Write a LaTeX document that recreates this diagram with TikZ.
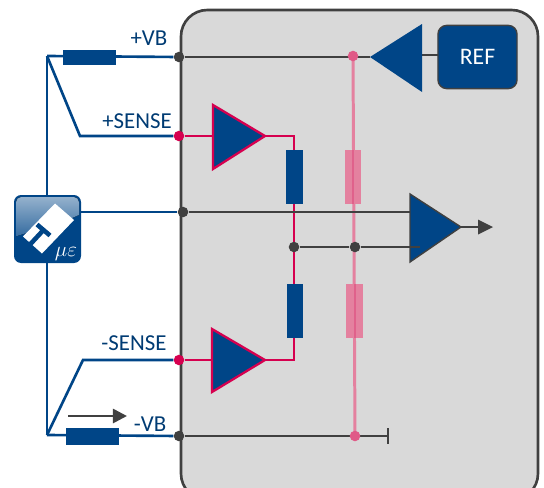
\documentclass[tikz,border=0pt]{standalone}
\usepackage{fontspec}
\setmainfont{Carlito}
\usetikzlibrary{arrows.meta,fadings}
\definecolor{mblue}{HTML}{004587}
\definecolor{mred}{HTML}{D6004F}
\definecolor{mgray}{HTML}{404040}
\definecolor{mpink}{HTML}{E4819F}
\tikzset{
    dotnode/.style={circle,fill=mgray,inner sep=0pt,minimum size=6pt},
    reddot/.style={dotnode,fill=mred},
    pinkdot/.style={dotnode,fill=mpink!70!mred},
    resblue/.style={fill=mblue},
    respink/.style={fill=mpink},
    wireblue/.style={draw=mblue,line width=1.5pt},
    wirered/.style={draw=mred,line width=1.5pt},
    wiregray/.style={draw=mgray,line width=1.5pt},
    wirepink/.style={draw=mpink,line width=1.7pt},
    lab/.style={text=mblue!85!black,font=\fontsize{13}{15}\selectfont,inner sep=0pt}
}
\begin{document}
\begin{tikzpicture}[x=0.02cm,y=-0.02cm]
    \useasboundingbox (0,0) rectangle (544,487);

    % Housing
    \begin{scope}
        \clip (0,0) rectangle (544,487);
        \draw[fill=black!15,draw=mgray,line width=1.5pt,rounded corners=15pt] (181,10) rectangle (538,500);
    \end{scope}

    % Junctions
    \coordinate (bustop) at (47,56);
    \coordinate (busbot) at (47,435);
    \coordinate (senseup) at (80,136);
    \coordinate (sensedn) at (83,360);
    \node[dotnode] (vbplus) at (179,57) {};
    \node[reddot] (senseplus) at (179,136) {};
    \node[dotnode] (signal) at (183,212) {};
    \node[reddot] (senseminus) at (179,360) {};
    \node[dotnode] (vbminus) at (179,436) {};
    \coordinate (endcap) at (388,436);
    \coordinate (sigin) at (410,212);
    \coordinate (refin) at (410,247);
    \coordinate (uptip) at (265,136);
    \coordinate (dntip) at (265,360);
    \coordinate (upknee) at (294,136);
    \coordinate (dnknee) at (294,360);
    \coordinate (reftip) at (370,57);
    \coordinate (refbase) at (422,55);
    \coordinate (maintip) at (461,227);
    \coordinate (outend) at (480,227);
    \coordinate (arrowfrom) at (68,416);
    \coordinate (arrowto) at (127,416);

    % Pink branch
    \coordinate (pinktop) at (353,56);
    \coordinate (pinkbot) at (355,436);
    \draw[wirepink] (pinktop) -- (pinkbot);

    % Wires
    \draw[wirered] (senseplus) -- (213,136);
    \draw[wirered] (senseminus) -- (212,360);
    \draw[wirered] (uptip) -- (upknee) -- (dnknee) -- (dntip);
    \draw[wiregray] (vbplus) -- (reftip);
    \draw[wiregray] (vbminus) -- (endcap);
    \draw[wiregray] ([yshift=-4.5pt]endcap) -- ([yshift=4.5pt]endcap);
    \draw[wiregray] (signal) -- (sigin);
    \draw[wiregray] (maintip) -- (outend);
    \fill[mgray] (478,219.5) -- (493,227) -- (478,234.5) -- cycle;
    \draw[wiregray] (refbase) -- (438,55);

    % Resistors
    \fill[resblue] (286,150) rectangle (303,204);
    \fill[resblue] (287,284) rectangle (303,338);
    \fill[respink] (345,150) rectangle (361,204);
    \fill[respink] (346,284) rectangle (363,338);
    \draw[draw=mpink!75!mred,line width=1.7pt] (353,150) -- (353,204);
    \draw[draw=mpink!75!mred,line width=1.7pt] (355,284) -- (355,338);

    % Bridge tap
    \node[dotnode] (tapa) at (294,247) {};
    \node[dotnode] (tapb) at (355,247) {};
    \draw[wiregray] (tapa) -- (tapb) -- (420,247);
    \node[pinkdot] (pinkupper) at (pinktop) {};
    \node[pinkdot] (pinklower) at (pinkbot) {};

    % Amplifiers
    \filldraw[fill=mblue,draw=mred,line width=1.3pt] (213,105) -- (uptip) -- (213,169) -- cycle;
    \filldraw[fill=mblue,draw=mred,line width=1.3pt] (212,329) -- (dntip) -- (212,392) -- cycle;
    \fill[mblue] (reftip) -- (422,24) -- (422,92) -- cycle;
    \filldraw[fill=mblue,draw=mgray,line width=0.8pt] (410,194) -- (maintip) -- (410,262) -- cycle;
    \draw[wiregray] (410,247) -- (420,247);

    % Reference
    \node[draw=mgray,fill=mblue,line width=0.8pt,rounded corners=5pt,minimum width=45pt,minimum height=36pt,inner sep=0pt,text=white,font=\fontsize{13.5}{15}\selectfont] (ref) at (477.5,57) {REF};

    % Outside wiring
    \draw[wireblue] (bustop) -- (vbplus);
    \draw[wireblue] (busbot) -- (vbminus);
    \draw[wireblue] (bustop) -- (senseup) -- (senseplus);
    \draw[wireblue] (busbot) -- (sensedn) -- (senseminus);
    \draw[wireblue] (bustop) -- (47,196);
    \draw[wireblue] (47,263) -- (busbot);
    \draw[wireblue] (81,212) -- (signal);
    \fill[resblue] (63,50) rectangle (116,65);
    \fill[resblue] (66,428) rectangle (119,445);
    \draw[mgray,line width=1.5pt,-{Triangle[length=8pt,width=8pt]}] (arrowfrom) -- (arrowto);

    % Labels
    \node[lab] (vbplab) at (149,38) {+VB};
    \node[lab] (spluslab) at (137,121) {+SENSE};
    \node[lab] (sminlab) at (134,343) {-SENSE};
    \node[lab] (vbmlab) at (150,424) {-VB};

    % Sensor icon
    \fill[mblue,rounded corners=4pt] (14,195) rectangle (81,263);
    \begin{scope}
        \clip[rounded corners=3pt] (16,197) rectangle (79,261);
        \fill[top color=mblue!40,bottom color=mblue!80] (14,195) -- (81,195) -- (81,214) .. controls (60,224) and (35,230) .. (14,237) -- cycle;
    \end{scope}
    \fill[white] (55,203.5) -- (74,220) -- (42,253.5) -- (23,236.5) -- cycle;
    \draw[mblue,line width=2.6pt] (30.5,244) -- (43.5,230);
    \draw[mblue,line width=2.6pt] (37,224.5) -- (50,235.5);
    \node[text=white,inner sep=0pt,font=\fontsize{12.5}{14}\selectfont] (muep) at (66,254) {$\mu\varepsilon$};
\end{tikzpicture}
\end{document}
